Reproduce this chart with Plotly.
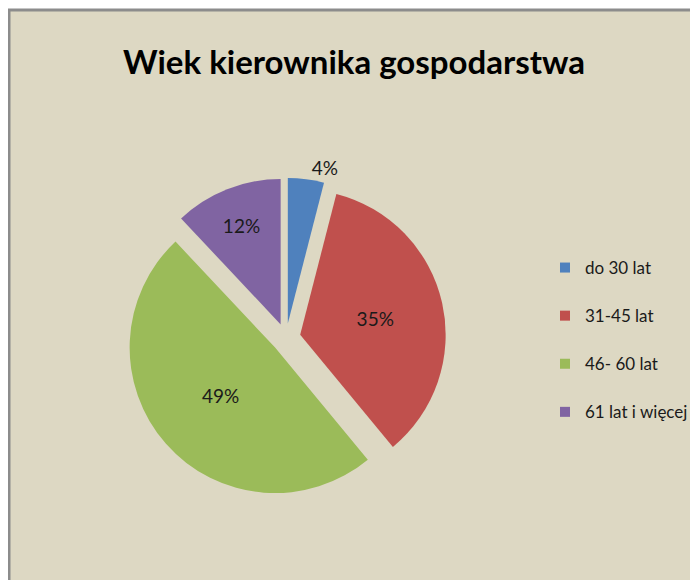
import plotly.graph_objects as go

categories = ["do 30 lat", "31-45 lat", "46- 60 lat", "61 lat i więcej"]
values = [4, 35, 49, 12]
colors = ["#4F81BD", "#C0504D", "#9BBB59", "#8064A2"]
title_text = "Wiek kierownika gospodarstwa"

# page has an 8px body margin: figure origin sits at page (8, 8)
OFF = 8
W, H = 698 - OFF, 580 - OFF
FONT = "Lato, DejaVu Sans, sans-serif"


def px(x):
    return (x - OFF) / W


def py(y):
    return 1 - (y - OFF) / H


CX, CY, R = 286, 338, 160

fig = go.Figure()

fig.add_trace(go.Pie(
    labels=categories,
    values=values,
    sort=False,
    direction="clockwise",
    rotation=0,
    marker=dict(colors=colors, line=dict(width=0)),
    pull=[0.1] * len(values),
    textinfo="percent",
    texttemplate="%{percent:.0%}",
    textposition=["outside", "inside", "inside", "inside"],
    insidetextorientation="horizontal",
    textfont=dict(family=FONT, size=19, color="#1a1a1a"),
    showlegend=False,
    hoverinfo="label+percent",
    domain=dict(x=[px(CX - R), px(CX + R)], y=[py(CY + R), py(CY - R)]),
))

for i, (c, col) in enumerate(zip(categories, colors)):
    fig.add_trace(go.Scatter(
        x=[None], y=[None], mode="markers", name=c,
        marker=dict(symbol="square", size=10, color=col),
        legendgroup=f"g{i}", showlegend=True, hoverinfo="skip",
    ))

fig.update_layout(
    width=W, height=H,
    margin=dict(l=0, r=0, t=0, b=0),
    paper_bgcolor="white",
    plot_bgcolor="rgba(0,0,0,0)",
    xaxis=dict(visible=False, range=[0, 1]),
    yaxis=dict(visible=False, range=[0, 1]),
    title=dict(text=f"<b>{title_text}</b>", x=px(354), xanchor="center",
               y=py(62), yanchor="middle",
               font=dict(family=FONT, size=33, color="black")),
    legend=dict(x=px(545), xanchor="left", y=py(250), yanchor="top",
                font=dict(family=FONT, size=17, color="#1a1a1a"),
                bgcolor="rgba(0,0,0,0)", tracegroupgap=23,
                itemwidth=30),
    shapes=[
        dict(type="rect", xref="paper", yref="paper", layer="below",
             x0=1 / W, x1=1.02, y0=-0.02, y1=1 - 2 / H,
             fillcolor="#DDD8C3", line=dict(color="#8C8C8C", width=3)),
    ],
)

fig.write_html("out.html")
